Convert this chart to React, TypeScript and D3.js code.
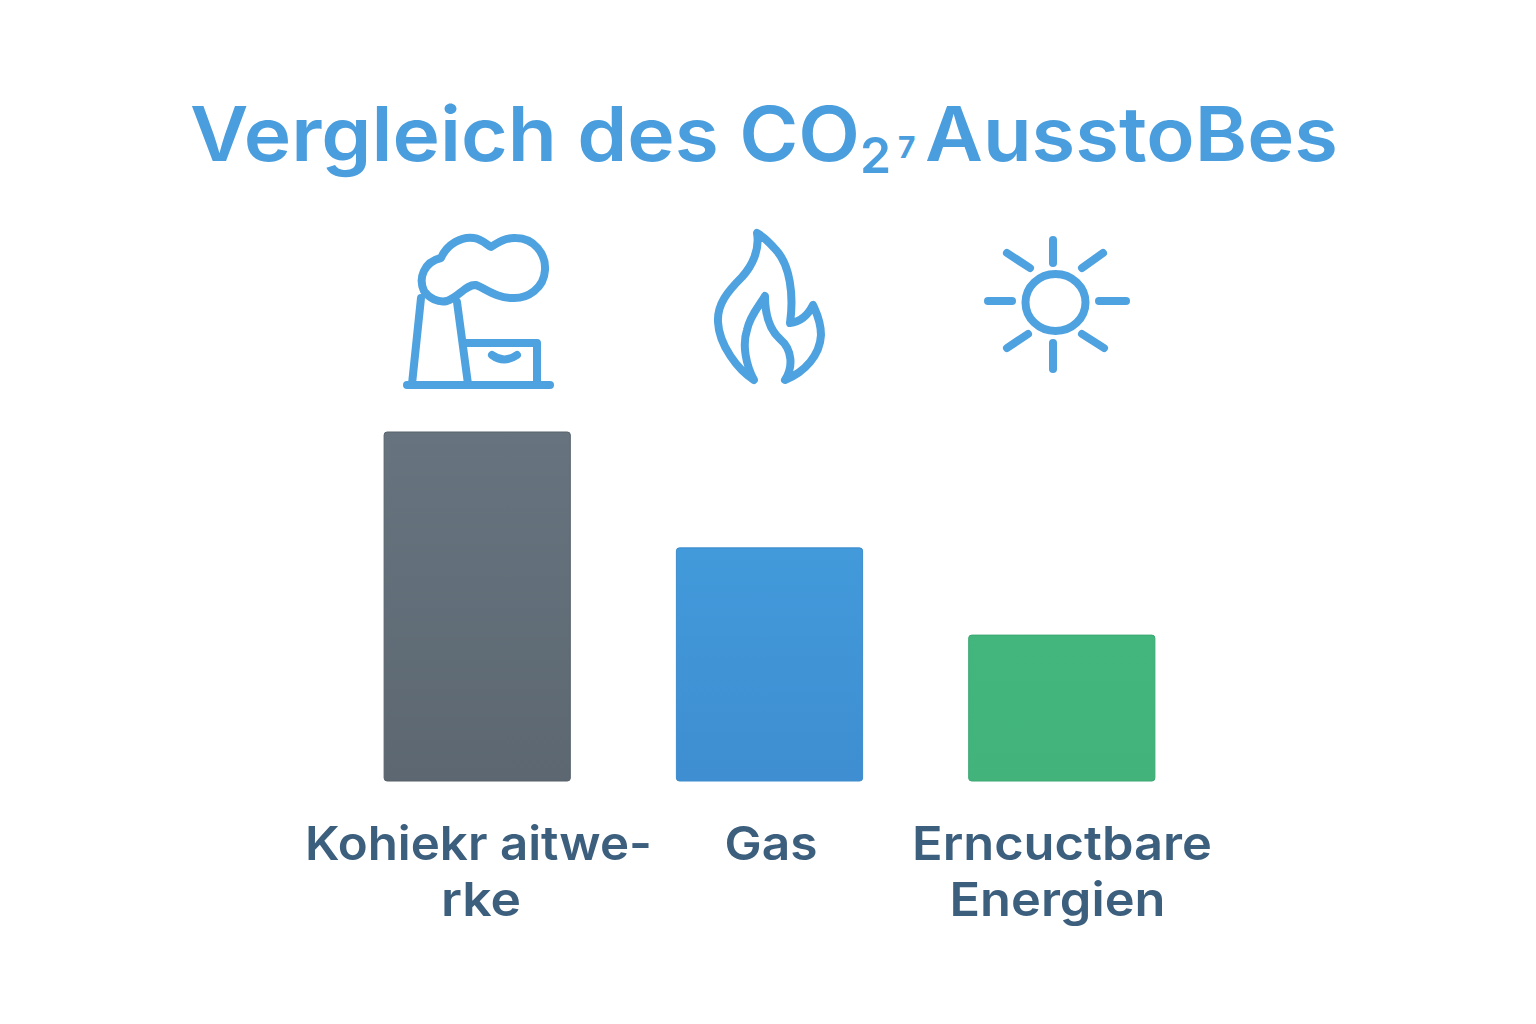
import React from "react";
import * as d3 from "d3";

const categories = ["Kohlekraftwerke", "Gas", "Erneuerbare Energien"];
const values = [100, 66.8, 41.8];
const labelLines = [["Kohiekr aitwe-", "rke"], ["Gas"], ["Erncuctbare", "Energien"]];
const labelCentres = [[478.5, 481], [771], [1062, 1057.5]];
const labelWidths = [[347, 80], [93], [300, 216]];
const barFills = ["url(#g0)", "url(#g1)", "url(#g2)"];
const barEdges = ["#56616b", "#3d8ccd", "#3aa872"];

const BLUE = "#4a9edd";
const INK = "#3c5f7e";
const FONT = "Inter, 'Noto Sans', sans-serif";

type P = [number, number];
const x = d3.scaleBand<string>().domain(categories).range([331.5, 1207.5]).paddingInner(0.363).paddingOuter(0.18);
const y = d3.scaleLinear().domain([0, 100]).range([781, 432]);
const straight = d3.line();

const cloudPath = "M424 291C418 278 424 262 441 258C447 244 462 236 474 238C482 239 487 245 491 247C497 243 506 237 516 238C534 238 546 254 545 270C544 288 528 299 512 298C497 298 486 289 476 285C466 284 459 297 447 301C438 303 429 298 424 291Z";
const flamePath = "M757 233C760 250 752 266 742 277C728 291 717 304 718 322C719 345 738 370 754 380C746 365 742 345 747 330C750 315 760 305 765 296C765 315 770 330 780 339C793 350 793 368 785 380C805 372 820 355 821 335C821 320 815 310 813 305C808 315 800 322 790 323C794 295 790 265 776 250C770 243 764 237 757 233Z";
const smilePath = "M492 355Q504 364 517 355";
const chimney: P[] = [[412, 384], [421, 298]];
const chimneyRight: P[] = [[457, 302], [468, 384]];
const boxLine: P[] = [[464, 343], [537, 343], [537, 385]];
const baseLine: P[] = [[407, 385], [550, 385]];

const rays: P[][] = [
  [[1053, 240], [1053, 263]], [[1053, 343], [1053, 369]],
  [[988, 301], [1012, 301]], [[1099, 301], [1126, 301]],
  [[1007, 253], [1030, 268]], [[1103, 253], [1082, 268]],
  [[1028, 334], [1007, 348]], [[1082, 334], [1104, 348]],
];

export default function App() {
  return (
    <svg width={1536} height={1024} style={{ position: "absolute", left: 0, top: 0, background: "#fff" }}>
      <defs>
        <linearGradient id="g0" x1="0" y1="0" x2="0" y2="1"><stop offset="0" stopColor="#67747f" /><stop offset="1" stopColor="#5c6771" /></linearGradient>
        <linearGradient id="g1" x1="0" y1="0" x2="0" y2="1"><stop offset="0" stopColor="#429adb" /><stop offset="1" stopColor="#3e8ed1" /></linearGradient>
        <linearGradient id="g2" x1="0" y1="0" x2="0" y2="1"><stop offset="0" stopColor="#42b67d" /><stop offset="1" stopColor="#42b47b" /></linearGradient>
      </defs>

      <text x={190} y={161} textLength={670} lengthAdjust="spacingAndGlyphs" fontFamily={FONT} fontWeight={600} fontSize={75} fill={BLUE}>
        Vergleich des CO
      </text>
      <text x={860} y={173} fontFamily={FONT} fontWeight={600} fontSize={50} fill={BLUE}>2</text>
      <text x={898} y={158} fontFamily={FONT} fontWeight={700} fontSize={30} fill={BLUE}>7</text>
      <text x={925} y={161} textLength={413} lengthAdjust="spacingAndGlyphs" fontFamily={FONT} fontWeight={600} fontSize={75} fill={BLUE}>AusstoBes</text>

      <g fill="none" stroke="#4ea2df" strokeWidth={8} strokeLinecap="round" strokeLinejoin="round">
        <path d={cloudPath} />
        <path d={straight(chimney) ?? ""} />
        <path d={straight(chimneyRight) ?? ""} />
        <path d={straight(boxLine) ?? ""} />
        <path d={straight(baseLine) ?? ""} />
        <path d={smilePath} />
        <path d={flamePath} />
        <ellipse cx={1055.5} cy={302.5} rx={30} ry={28.5} />
        {rays.map((ray, i) => <path key={i} d={straight(ray) ?? ""} />)}
      </g>

      {categories.map((c, i) => (
        <rect key={c} x={x(c)} y={y(values[i])} width={x.bandwidth()} height={y(0) - y(values[i])} rx={3}
          fill={barFills[i]} stroke={barEdges[i]} strokeWidth={1} />
      ))}

      {categories.map((c, i) =>
        labelLines[i].map((line, j) => (
          <text key={c + j} x={labelCentres[i][j]} y={860 + j * 56} textAnchor="middle" textLength={labelWidths[i][j]}
            lengthAdjust="spacingAndGlyphs" fontFamily={FONT} fontWeight={600} fontSize={47} fill={INK}>{line}</text>
        ))
      )}
    </svg>
  );
}
